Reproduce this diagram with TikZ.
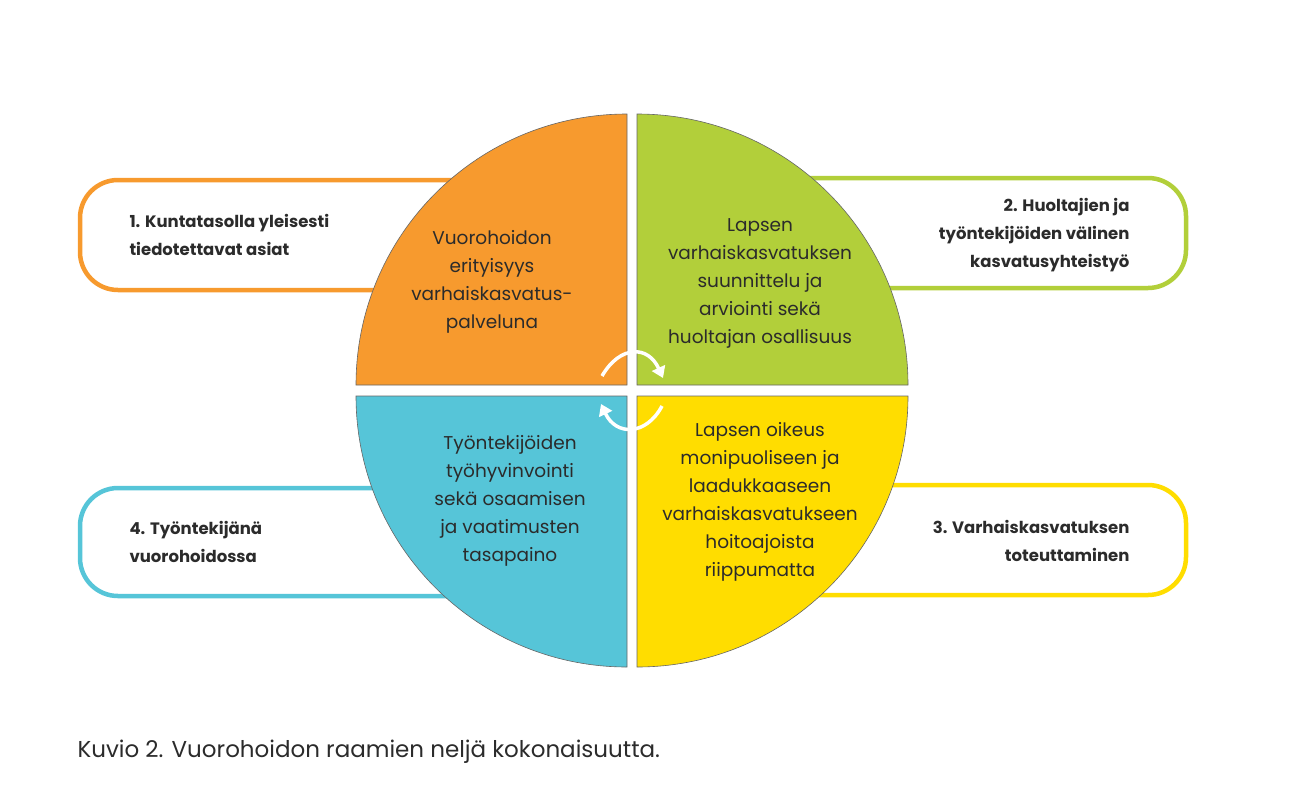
\documentclass[tikz,border=0pt]{standalone}
\usepackage{fontspec}
\setmainfont{Poppins}
\usetikzlibrary{arrows.meta}
\definecolor{cor}{HTML}{F79A2E}
\definecolor{cgr}{HTML}{B2CF3A}
\definecolor{cye}{HTML}{FFDD00}
\definecolor{cbl}{HTML}{56C5D8}
\definecolor{ctx}{HTML}{2B2B2B}
\tikzset{
 frame/.style={draw=#1,line width=4.5pt,rounded corners=38pt,fill=white},
 quad/.style={fill=#1,draw=black!60,line width=0.6pt},
 qtext/.style={align=center,font=\fontsize{18.5}{28}\selectfont,text=ctx},
 btext/.style={font=\bfseries\fontsize{16.5}{28}\selectfont,text=ctx},
 turn/.style={draw=white,line width=3.5pt,-{Triangle[length=11pt,width=14pt]}}
}
\begin{document}
\begin{tikzpicture}[x=1pt,y=-1pt]
\useasboundingbox (0,0) rectangle (1316,806);
\draw[frame=cor] (80,180) rectangle (520,290);
\draw[frame=cgr] (740,178) rectangle (1186,288);
\draw[frame=cbl] (80,488) rectangle (520,596);
\draw[frame=cye] (740,485) rectangle (1186,595);
\draw[quad=cor] (627,385) -- (356,385) arc[start angle=180,end angle=90,radius=271pt] -- cycle;
\draw[quad=cgr] (637,385) -- (637,114) arc[start angle=90,end angle=0,radius=271pt] -- cycle;
\draw[quad=cbl] (627,396) -- (627,667) arc[start angle=270,end angle=180,radius=271pt] -- cycle;
\draw[quad=cye] (637,396) -- (908,396) arc[start angle=0,end angle=-90,radius=271pt] -- cycle;
\node[qtext] (q1) at (492,282) {Vuorohoidon\\erityisyys\\varhaiskasvatus-\\palveluna};
\node[qtext] (q2) at (760,283) {Lapsen\\varhaiskasvatuksen\\suunnittelu ja\\arviointi sekä\\huoltajan osallisuus};
\node[qtext] (q4) at (510,501) {Työntekijöiden\\työhyvinvointi\\sekä osaamisen\\ja vaatimusten\\tasapaino};
\node[qtext] (q3) at (760,502) {Lapsen oikeus\\monipuoliseen ja\\laadukkaaseen\\varhaiskasvatukseen\\hoitoajoista\\riippumatta};
\node[btext,align=left,anchor=west] (b1) at (126,235) {1. Kuntatasolla yleisesti\\tiedotettavat asiat};
\node[btext,align=right,anchor=east] (b2) at (1133,235) {2. Huoltajien ja\\työntekijöiden välinen\\kasvatusyhteistyö};
\node[btext,align=left,anchor=west] (b4) at (126,542) {4. Työntekijänä\\vuorohoidossa};
\node[btext,align=right,anchor=east] (b3) at (1133,541) {3. Varhaiskasvatuksen\\toteuttaminen};
\coordinate (a1s) at (602,376); \coordinate (a1e) at (663,378);
\coordinate (a2s) at (662,406); \coordinate (a2e) at (601,404);
\draw[turn] (a1s) .. controls (620,345) and (648,345) .. (a1e);
\draw[turn] (a2s) .. controls (646,436) and (616,436) .. (a2e);
\node[anchor=west,font=\fontsize{23}{28}\selectfont,text=ctx] (cap) at (74,752) {Kuvio 2. Vuorohoidon raamien neljä kokonaisuutta.};
\end{tikzpicture}
\end{document}
